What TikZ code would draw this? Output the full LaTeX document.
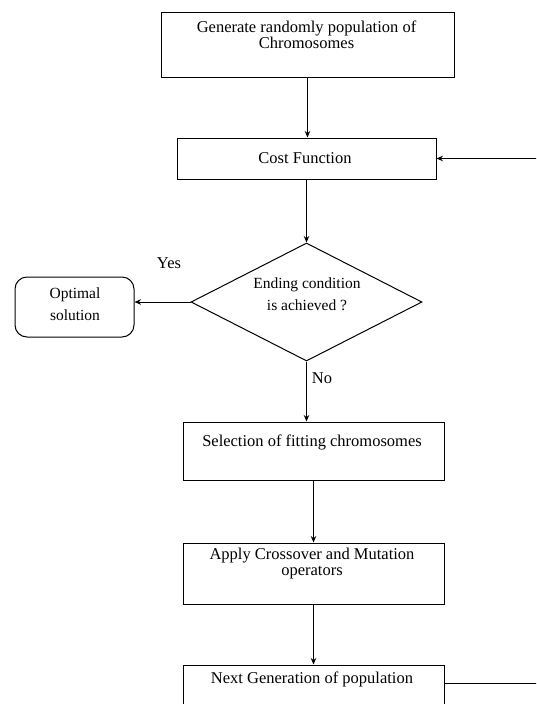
\documentclass[tikz,border=0pt]{standalone}
\usepackage{fontspec}
\setmainfont{Liberation Serif}
\usetikzlibrary{shapes.geometric, arrows.meta}

\tikzset{
    box/.style = {draw, rectangle, line width = 1pt, inner sep = 0pt},
    decision/.style = {draw, diamond, line width = 1pt, inner sep = 0pt},
    terminal/.style = {draw, rectangle, rounded corners = 12pt, line width = 1pt, inner sep = 0pt},
    word/.style = {align = center, inner sep = 0pt, font = \fontsize{16.5}{16.5}\selectfont},
    wideword/.style = {align = center, inner sep = 0pt, font = \fontsize{15.5}{22}\selectfont},
    flow/.style = {->, > = {Stealth[length = 6.5pt, width = 5.5pt]}, line width = 1pt}
}

\begin{document}
\begin{tikzpicture}[x = 1pt, y = -1pt]
        \clip (0, 0) rectangle (536, 704);

        % Nodes
        \node [box, minimum width = 293, minimum height = 65] (gen) at (307.5, 44.5) {};
        \node [box, minimum width = 259, minimum height = 41] (cost) at (306.5, 158.5) {};
        \node [decision, minimum width = 231, minimum height = 118] (cond) at (306.5, 302) {};
        \node [terminal, minimum width = 119, minimum height = 60] (opt) at (74.5, 307) {};
        \node [box, minimum width = 261, minimum height = 58] (sel) at (313.5, 451) {};
        \node [box, minimum width = 261, minimum height = 61] (apply) at (313.5, 573.5) {};
        \node [box, minimum width = 261, minimum height = 60] (next) at (313.5, 695) {};
        \coordinate (back) at (541, 683);

        % Texts
        \node [word] (gentext) at (306.5, 35) {Generate randomly population of\\Chromosomes};
        \node [word] (costtext) at (305, 158) {Cost Function};
        \node [wideword] (condtext) at (307, 294) {Ending condition\\is achieved ?};
        \node [wideword] (opttext) at (75, 304) {Optimal\\solution};
        \node [word] (seltext) at (312, 442) {Selection of fitting chromosomes};
        \node [word] (applytext) at (312, 563.5) {Apply Crossover and Mutation\\operators};
        \node [word] (nexttext) at (312, 679) {Next Generation of population};
        \node [word] (yes) at (169, 263) {Yes};
        \node [word] (no) at (322, 378) {No};

        % Edges Direction
        \draw [flow] (gen.south) -- (gen.south |- cost.north);
        \draw [flow] (cost.south -| cond.north) -- (cond.north);
        \draw [flow] (cond.west) -- (cond.west -| opt.east);
        \draw [flow] (cond.south) -- (cond.south |- sel.north);
        \draw [flow] (sel.south) -- (apply.north);
        \draw [flow] (apply.south) -- (next.north);
        \draw [flow] (next.east |- back) -- (back) -- (back |- cost.east) -- (cost.east);

    \end{tikzpicture}
\end{document}
